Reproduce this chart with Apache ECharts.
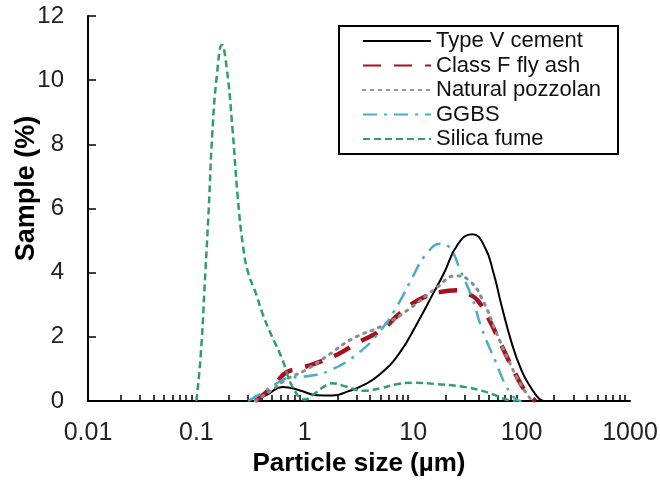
<!DOCTYPE html>
<html>
<head>
<meta charset="utf-8">
<script src="https://cdn.jsdelivr.net/npm/echarts@6/dist/echarts.min.js"></script>
<style>
html,body{margin:0;padding:0;background:#fff;}
#chart{width:660px;height:481px;}
</style>
</head>
<body>
<div id="chart"></div>
<script>
// ---- data (particle size in µm, sample %) ----
const cementX = [0.35, 0.45, 0.63, 0.9, 1.3, 1.8, 2.5, 3.5, 5, 7.5, 11, 15, 19, 26, 35, 45, 55, 65, 82, 100, 120, 145, 160];
const cementY = [0, 0.2, 0.44, 0.33, 0.18, 0.17, 0.3, 0.5, 0.85, 1.5, 2.45, 3.3, 3.95, 4.9, 5.2, 4.85, 4.0, 3.0, 1.75, 0.95, 0.45, 0.07, 0];

const flyAshX = [0.35, 0.45, 0.55, 0.68, 0.85, 1.2, 2, 3, 5, 8, 12, 18, 25, 32, 40, 50, 66, 89, 110, 135];
const flyAshY = [0, 0.3, 0.6, 0.9, 1.0, 1.15, 1.45, 1.8, 2.2, 2.8, 3.2, 3.4, 3.45, 3.35, 3.1, 2.55, 1.7, 0.8, 0.28, 0];

const pozzolanX = [0.35, 0.5, 0.7, 1.0, 1.6, 2.75, 5.2, 9.2, 16, 25, 33, 43, 58, 75, 100, 125];
const pozzolanY = [0, 0.35, 0.7, 0.95, 1.4, 1.94, 2.35, 2.87, 3.5, 3.9, 3.75, 3.2, 2.16, 1.3, 0.47, 0];

const ggbsX = [0.3, 0.4, 0.55, 0.7, 0.9, 1.2, 1.7, 3, 5, 7.5, 10, 13, 18, 22, 27, 35, 43, 58, 72, 89, 100];
const ggbsY = [0, 0.25, 0.55, 0.72, 0.75, 0.8, 0.95, 1.45, 2.2, 3.1, 3.9, 4.55, 4.9, 4.75, 4.1, 3.2, 2.25, 1.2, 0.47, 0.05, 0];

const silicaX = [0.1, 0.11, 0.12, 0.13, 0.14, 0.155, 0.172, 0.19, 0.215, 0.24, 0.27, 0.3, 0.35, 0.41, 0.5, 0.62, 0.72, 0.8, 0.9, 1.0, 1.2, 1.5, 1.8, 2.4, 3.5, 5, 7, 10, 16, 28, 45, 60, 75, 90];
const silicaY = [0, 1.5, 3.8, 6.0, 8.3, 10.2, 11.1, 10.4, 8.5, 6.4, 4.8, 4.0, 3.4, 2.7, 2.0, 1.3, 0.65, 0.35, 0.1, 0.05, 0.2, 0.45, 0.55, 0.45, 0.32, 0.4, 0.52, 0.57, 0.53, 0.45, 0.3, 0.15, 0.03, 0];

const seriesNames = ['Type V cement', 'Class F fly ash', 'Natural pozzolan', 'GGBS', 'Silica fume'];
const xTickLabels = [0.01, 0.1, 1, 10, 100, 1000];
const yTicks = [0, 2, 4, 6, 8, 10, 12];
const minorMultipliers = [2, 3, 4, 5, 6, 7, 8, 9];

function pairs(xs, ys) { return xs.map((x, i) => [x, ys[i]]); }
const minorTickValues = [];
xTickLabels.slice(0, -1).forEach(d => minorMultipliers.forEach(m => minorTickValues.push(+(d * m).toPrecision(3))));

const ARIAL = "'Liberation Sans', Arial, sans-serif";

const chart = echarts.init(document.getElementById('chart'), null, {renderer: 'canvas'});

function line(name, xs, ys, color, width, type, cap) {
  return {
    name: name, type: 'line', data: pairs(xs, ys), smooth: 0.5, symbol: 'none',
    lineStyle: {color: color, width: width, type: type, cap: cap || 'butt'},
    itemStyle: {color: color}, z: 2
  };
}

chart.setOption({
  animation: false,
  backgroundColor: '#fff',
  grid: {left: 88, right: 30, top: 16, bottom: 80, containLabel: false, outerBoundsMode: 'none'},
  xAxis: [{
    type: 'log', logBase: 10, min: 0.01, max: 1000,
    name: 'Particle size (µm)', nameLocation: 'middle', nameGap: 42,
    nameTextStyle: {fontFamily: ARIAL, fontWeight: 'bold', fontSize: 26, color: '#000'},
    axisLine: {lineStyle: {color: '#000', width: 2}},
    axisTick: {show: true, inside: true, length: 6, lineStyle: {color: '#000', width: 1.5}, customValues: minorTickValues},
    axisLabel: {fontFamily: ARIAL, fontSize: 25, color: '#222', margin: 20, customValues: xTickLabels,
      formatter: v => String(v)},
    splitLine: {show: false}
  }],
  yAxis: [{
    type: 'value', min: 0, max: 12, interval: 2,
    name: 'Sample (%)', nameLocation: 'middle', nameGap: 48, nameMoveOverlap: false,
    nameTextStyle: {fontFamily: ARIAL, fontWeight: 'bold', fontSize: 27, color: '#000', padding: [0, 0, 0, 40]},
    axisLine: {show: true, lineStyle: {color: '#000', width: 2}},
    axisTick: {show: true, inside: true, length: 8, lineStyle: {color: '#000', width: 1.5}},
    axisLabel: {fontFamily: ARIAL, fontSize: 24, color: '#222', margin: 24},
    splitLine: {show: false}
  }],
  legend: {
    orient: 'vertical', left: 338, top: 25,
    padding: [5, 14, 5, 24], itemGap: 2.5, itemWidth: 68, itemHeight: 14,
    itemStyle: {opacity: 0},
    textStyle: {fontFamily: ARIAL, fontSize: 22, color: '#111'},
    data: seriesNames
  },
  graphic: [{
    type: 'rect', left: 338, top: 25, z: 1,
    shape: {width: 279, height: 128},
    style: {fill: '#fff', stroke: '#000', lineWidth: 2}
  }],
  series: [
    line(seriesNames[0], cementX, cementY, '#000000', 2),
    line(seriesNames[1], flyAshX, flyAshY, '#A8101C', 4.5, [18, 13]),
    line(seriesNames[2], pozzolanX, pozzolanY, '#8C8C8C', 3, [2, 6], 'round'),
    line(seriesNames[3], ggbsX, ggbsY, '#4BACC6', 2.5, [14, 7, 3, 7]),
    line(seriesNames[4], silicaX, silicaY, '#2E9E6C', 2.5, [7, 4])
  ]
});
</script>
</body>
</html>
